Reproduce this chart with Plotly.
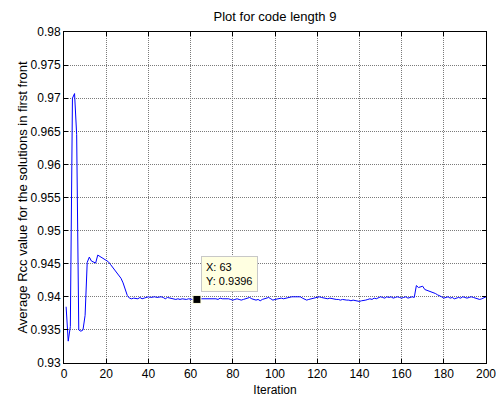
import plotly.graph_objects as go

iterations = list(range(1, 201))
rcc = [
    # 1-10
    0.9385, 0.9333, 0.9355, 0.9700, 0.9707, 0.9645, 0.9350, 0.9348, 0.9350, 0.9372,
    # 11-20
    0.9452, 0.9460, 0.9454, 0.9453, 0.9451, 0.9463, 0.9461, 0.9460, 0.9458, 0.9456,
    # 21-30
    0.9453, 0.9449, 0.9445, 0.9441, 0.9437, 0.9433, 0.9428, 0.9421, 0.9412, 0.9402,
    # 31-40
    0.9398, 0.9397, 0.9398, 0.9398, 0.9397, 0.9399, 0.9397, 0.9398, 0.9399, 0.9400,
    # 41-50
    0.9399, 0.9400, 0.9400, 0.9399, 0.9400, 0.9400, 0.9399, 0.9397, 0.9399, 0.9398,
    # 51-60
    0.9397, 0.9397, 0.9396, 0.9397, 0.9396, 0.9397, 0.9396, 0.9396, 0.9397, 0.9396,
    # 61-70
    0.9396, 0.9397, 0.9396, 0.9397, 0.9397, 0.9398, 0.9397, 0.9397, 0.9398, 0.9397,
    # 71-80
    0.9398, 0.9397, 0.9396, 0.9398, 0.9397, 0.9397, 0.9398, 0.9397, 0.9396, 0.9395,
    # 81-90
    0.9396, 0.9397, 0.9396, 0.9395, 0.9396, 0.9397, 0.9398, 0.9399, 0.9397, 0.9396,
    # 91-100
    0.9395, 0.9396, 0.9394, 0.9396, 0.9397, 0.9398, 0.9399, 0.9397, 0.9395, 0.9396,
    # 101-110
    0.9397, 0.9397, 0.9398, 0.9397, 0.9398, 0.9399, 0.9400, 0.9400, 0.9400, 0.9400,
    # 111-120
    0.9400, 0.9400, 0.9398, 0.9397, 0.9395, 0.9396, 0.9397, 0.9398, 0.9399, 0.9400,
    # 121-130
    0.9400, 0.9399, 0.9398, 0.9398, 0.9397, 0.9398, 0.9397, 0.9397, 0.9396, 0.9396,
    # 131-140
    0.9395, 0.9396, 0.9395, 0.9395, 0.9395, 0.9394, 0.9395, 0.9394, 0.9394, 0.9393,
    # 141-150
    0.9394, 0.9394, 0.9395, 0.9396, 0.9397, 0.9396, 0.9398, 0.9397, 0.9399, 0.9400,
    # 151-160
    0.9399, 0.9398, 0.9400, 0.9399, 0.9400, 0.9398, 0.9399, 0.9400, 0.9399, 0.9398,
    # 161-170
    0.9399, 0.9400, 0.9398, 0.9399, 0.9400, 0.9399, 0.9417, 0.9414, 0.9415, 0.9416,
    # 171-180
    0.9411, 0.9410, 0.9408, 0.9407, 0.9406, 0.9405, 0.9403, 0.9402, 0.9400, 0.9398,
    # 181-190
    0.9399, 0.9400, 0.9398, 0.9399, 0.9397, 0.9398, 0.9399, 0.9398, 0.9400, 0.9399,
    # 191-200
    0.9398, 0.9399, 0.9400, 0.9399, 0.9398, 0.9396, 0.9396, 0.9397, 0.9398, 0.9400,
]

x_ticks = [0, 20, 40, 60, 80, 100, 120, 140, 160, 180, 200]
y_ticks = [0.93, 0.935, 0.94, 0.945, 0.95, 0.955, 0.96, 0.965, 0.97, 0.975, 0.98]
y_tick_labels = ["0.93", "0.935", "0.94", "0.945", "0.95", "0.955", "0.96",
                 "0.965", "0.97", "0.975", "0.98"]

tip_x = 63
tip_y = 0.9396

font = "Liberation Sans, Arial, sans-serif"

fig = go.Figure()
fig.add_trace(go.Scatter(
    x=iterations, y=rcc, mode="lines",
    line=dict(color="#0000FF", width=1), showlegend=False, hoverinfo="skip",
))
fig.add_trace(go.Scatter(
    x=[tip_x], y=[tip_y], mode="markers",
    marker=dict(symbol="square", size=8, color="black",
                line=dict(color="#FFFFE1", width=1)),
    showlegend=False, hoverinfo="skip",
))

fig.add_annotation(
    x=tip_x, y=tip_y, xref="x", yref="y",
    text="X: 63<br>Y: 0.9396", showarrow=False,
    xanchor="left", yanchor="bottom", xshift=4, yshift=7,
    align="left", bgcolor="#FFFFE1", bordercolor="#C8C8C8", borderwidth=1,
    borderpad=4, font=dict(family=font, size=11, color="black"),
)

axis_common = dict(
    showline=True, linecolor="black", linewidth=1, mirror="ticks",
    ticks="inside", ticklen=4, tickcolor="black",
    showgrid=True, gridcolor="#7A7A7A", gridwidth=1, griddash="1px,1px",
    zeroline=False, automargin=False, ticklabeloverflow="allow",
    tickfont=dict(family=font, size=12, color="black"),
)

fig.update_layout(
    width=496, height=397,
    margin=dict(l=64, r=10, t=32, b=34),
    paper_bgcolor="white", plot_bgcolor="white",
    title=dict(text="Plot for code length 9", x=0.5, xanchor="center",
               xref="paper", y=1, yref="container", yanchor="top", pad=dict(t=12),
               font=dict(family=font, size=13, color="black")),
    xaxis=dict(range=[0, 200], tickvals=x_ticks,
               title=dict(text="Iteration", standoff=11,
                          font=dict(family=font, size=12, color="black")),
               **axis_common),
    yaxis=dict(range=[0.93, 0.98], tickvals=y_ticks, ticktext=y_tick_labels,
               title=dict(text="Average Rcc value for the solutions in first front",
                          standoff=0,
                          font=dict(family=font, size=13, color="black")),
               **axis_common),
)

fig.write_html("out.html")
